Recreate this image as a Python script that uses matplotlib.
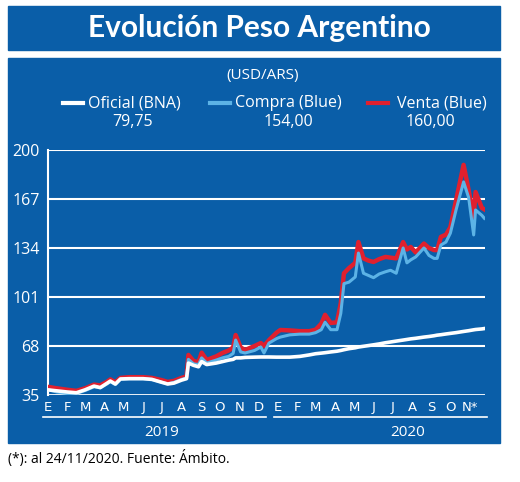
import pandas as pd
import matplotlib
matplotlib.use("Agg")
import matplotlib.pyplot as plt
import matplotlib.dates as mdates
from matplotlib.patches import Rectangle

# ==========================================
# Data
# ==========================================
FECHAS = [
    "2019-01-02", "2019-01-15", "2019-02-01", "2019-02-15", "2019-03-01",
    "2019-03-15", "2019-03-25", "2019-04-05", "2019-04-10", "2019-04-18",
    "2019-04-26", "2019-05-10", "2019-06-01", "2019-06-15", "2019-07-01",
    "2019-07-10", "2019-07-20", "2019-08-01", "2019-08-09", "2019-08-12",
    "2019-08-20", "2019-08-28", "2019-09-02", "2019-09-10", "2019-09-25",
    "2019-10-05", "2019-10-15", "2019-10-22", "2019-10-26", "2019-11-03",
    "2019-11-10", "2019-11-25", "2019-12-05", "2019-12-10", "2019-12-18",
    "2019-12-30", "2020-01-05", "2020-01-20", "2020-02-05", "2020-02-20",
    "2020-03-01", "2020-03-10", "2020-03-16", "2020-03-25", "2020-04-04",
    "2020-04-10", "2020-04-15", "2020-04-23", "2020-05-03", "2020-05-08",
    "2020-05-16", "2020-05-24", "2020-06-01", "2020-06-10", "2020-06-20",
    "2020-06-28", "2020-07-07", "2020-07-18", "2020-07-24", "2020-07-30",
    "2020-08-07", "2020-08-20", "2020-08-28", "2020-09-05", "2020-09-10",
    "2020-09-16", "2020-09-24", "2020-10-01", "2020-10-10", "2020-10-22",
    "2020-10-30", "2020-11-07", "2020-11-10", "2020-11-20", "2020-11-24",
]
OFICIAL = [
    38.4, 37.8, 37.0, 36.5, 38.5, 41.0, 40.0, 43.0, 44.4, 42.4,
    45.8, 46.0, 46.0, 45.5, 43.5, 42.4, 43.0, 45.0, 46.0, 56.5,
    55.0, 54.0, 57.5, 55.5, 56.5, 57.5, 58.5, 59.0, 60.0, 60.0,
    60.3, 60.5, 60.6, 60.6, 60.6, 60.5, 60.5, 60.5, 61.0, 62.0,
    62.8, 63.2, 63.5, 64.0, 64.5, 65.0, 65.5, 66.2, 66.8, 67.3,
    67.8, 68.3, 68.8, 69.4, 70.2, 70.7, 71.3, 72.0, 72.4, 72.8,
    73.2, 74.0, 74.4, 74.9, 75.3, 75.6, 76.1, 76.5, 77.0, 77.8,
    78.3, 78.9, 79.1, 79.5, 79.75,
]
COMPRA = [
    38.5, 37.0, 36.0, 36.0, 38.0, 40.5, 39.8, 42.5, 44.0, 42.0,
    45.5, 46.0, 46.0, 45.5, 43.5, 42.5, 43.5, 45.5, 46.5, 59.0,
    56.0, 55.5, 60.0, 56.5, 58.5, 60.0, 61.0, 63.0, 72.0, 64.0,
    63.3, 65.0, 67.3, 63.3, 70.0, 73.0, 74.0, 75.5, 76.0, 76.0,
    77.0, 79.0, 84.0, 79.0, 79.0, 90.0, 110.0, 111.0, 114.5, 130.6,
    117.0, 115.5, 114.0, 116.5, 118.0, 119.0, 117.0, 134.0, 124.0, 126.0,
    128.0, 134.0, 129.0, 127.0, 127.0, 136.0, 138.0, 144.0, 159.6, 178.5,
    168.0, 142.8, 159.6, 156.0, 154.0,
]
VENTA = [
    40.4, 39.5, 38.5, 37.8, 39.5, 42.0, 41.5, 44.0, 45.5, 43.5,
    46.5, 47.0, 47.0, 46.5, 45.0, 43.8, 44.5, 46.5, 47.5, 62.0,
    58.0, 57.0, 63.5, 58.6, 61.0, 63.3, 65.0, 67.0, 75.4, 67.0,
    65.3, 68.0, 70.0, 68.0, 72.0, 77.0, 78.8, 78.5, 78.0, 78.0,
    79.0, 83.0, 89.0, 83.5, 84.0, 97.0, 117.0, 120.5, 124.0, 138.0,
    127.0, 125.5, 124.6, 126.5, 128.0, 127.5, 127.0, 138.0, 133.0, 134.7,
    131.0, 137.0, 134.0, 132.6, 132.6, 141.5, 143.0, 148.0, 166.0, 190.0,
    173.0, 155.0, 171.7, 161.0, 160.0,
]
Y_TICKS = [35, 68, 101, 134, 167, 200]
MESES = ["E", "F", "M", "A", "M", "J", "J", "A", "S", "O", "N", "D",
         "E", "F", "M", "A", "M", "J", "J", "A", "S", "O", "N*"]
# ==========================================

AZUL = "#0a5ea8"
ROJO = "#e0202e"
CELESTE = "#5cb3e6"
W, H = 520, 482

fechas = pd.to_datetime(FECHAS)
mes_ini = pd.date_range("2019-01-01", periods=len(MESES), freq="MS")

fig = plt.figure(figsize=(W / 100, H / 100), dpi=100)
fig.patch.set_facecolor("white")

def fx(px):
    return px / W

def fy(py):
    return 1 - py / H

# blue banners (behind the axes)
fig.patches.append(Rectangle((fx(8), fy(50)), fx(492), 44 / H,
                             transform=fig.transFigure, color=AZUL, zorder=-5))
fig.patches.append(Rectangle((fx(8), fy(443)), fx(492), 385 / H,
                             transform=fig.transFigure, color=AZUL, zorder=-5))

fig.text(fx(259), fy(28), "Evolución Peso Argentino", color="white",
         fontsize=21.5, fontweight="bold", family="Lato", ha="center", va="center")
fig.text(fx(263), fy(75), "(USD/ARS)", color="white", fontsize=11,
         family="Open Sans", ha="center", va="center")

# legend
leyenda = [
    ("Oficial (BNA)", "79,75", "white", 63, 88, 133),
    ("Compra (Blue)", "154,00", CELESTE, 210, 235, 288),
    ("Venta (Blue)", "160,00", ROJO, 368, 397, 430),
]
for nombre, valor, color, lx, tx, vx in leyenda:
    fig.lines.append(plt.Line2D([fx(lx), fx(lx + 20)], [fy(103), fy(103)],
                                transform=fig.transFigure, color=color, lw=3))
    fig.text(fx(tx), fy(103), nombre, color="white", fontsize=11.5,
             family="Open Sans", ha="left", va="center")
    fig.text(fx(vx), fy(122), valor, color="white", fontsize=11.5,
             family="Open Sans", ha="center", va="center")

fig.text(fx(8), fy(458), "(*): al 24/11/2020. Fuente: Ámbito.", color="black",
         fontsize=10, family="Open Sans", ha="left", va="center")

ax = fig.add_axes([fx(48), fy(395), fx(485 - 48), (395 - 150) / H])
ax.patch.set_visible(False)

ax.plot(fechas, VENTA, color=ROJO, lw=3.2, zorder=3)
ax.plot(fechas, COMPRA, color=CELESTE, lw=2.2, zorder=4)
ax.plot(fechas, OFICIAL, color="white", lw=2.6, zorder=5)

ax.set_xlim(pd.Timestamp("2019-01-01"), pd.Timestamp("2020-11-25"))
ax.set_ylim(35, 200)
ax.set_yticks(Y_TICKS)
ax.set_yticklabels([str(v) for v in Y_TICKS], color="white", fontsize=11.5,
                   family="Open Sans")
for v in Y_TICKS:
    ax.axhline(v, color="white", lw=2.0 if v == 35 else 1.5, zorder=1)
ax.tick_params(axis="y", length=0, pad=6)

ax.set_xticks(mdates.date2num(mes_ini))
ax.set_xticklabels(MESES, color="white", fontsize=9.5,
                   family=["Liberation Sans Narrow", "DejaVu Sans"])
ax.tick_params(axis="x", length=0, pad=4)

for lado in ["top", "right", "bottom"]:
    ax.spines[lado].set_visible(False)
ax.spines["left"].set_color("white")
ax.spines["left"].set_linewidth(1.5)

# year underlines and labels
xt = ax.get_xaxis_transform()
ax.plot(pd.to_datetime(["2018-12-24", "2019-12-13"]), [-0.09, -0.09],
        transform=xt, color="white", lw=1.2, clip_on=False)
ax.plot(pd.to_datetime(["2019-12-26", "2020-11-28"]), [-0.09, -0.09],
        transform=xt, color="white", lw=1.2, clip_on=False)
ax.text(pd.Timestamp("2019-07-01"), -0.155, "2019", transform=xt, color="white",
        fontsize=11, family="Open Sans", ha="center", va="center")
ax.text(pd.Timestamp("2020-07-25"), -0.155, "2020", transform=xt, color="white",
        fontsize=11, family="Open Sans", ha="center", va="center")

fig.savefig("out.png", dpi=100)
